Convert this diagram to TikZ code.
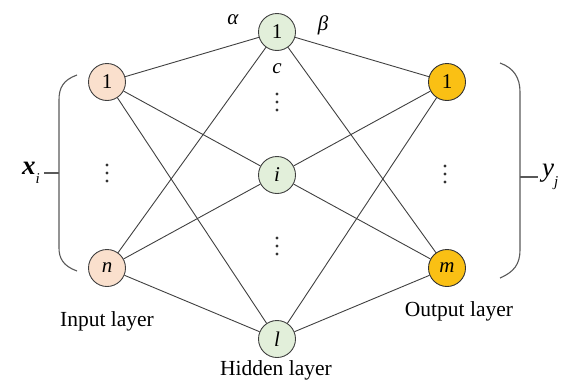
\documentclass[tikz,border=0pt]{standalone}
\usepackage{fontspec}
\setmainfont{Liberation Serif}
\definecolor{inpc}{RGB}{250,224,205}
\definecolor{hidc}{RGB}{226,239,218}
\definecolor{outc}{RGB}{250,192,20}
\newcommand\ilet[1]{\textit{#1}}
\newcommand\subtxt[1]{\raisebox{-0.35em}{\fontsize{15}{15}\selectfont\itshape #1}}
\begin{document}
\begin{tikzpicture}[x=1pt,y=-1pt,
  neuron/.style={circle,draw=black!75,line width=0.9pt,minimum size=37pt,inner sep=0pt,font=\fontsize{21}{21}\selectfont},
  inp/.style={neuron,fill=inpc},
  hid/.style={neuron,fill=hidc},
  outn/.style={neuron,fill=outc,draw=black!80},
  edge/.style={draw=black!75,line width=0.9pt},
  lbl/.style={font=\fontsize{21.5}{22}\selectfont,inner sep=0pt},
  wlbl/.style={font=\fontsize{21}{21}\selectfont\itshape,inner sep=0pt},
  side/.style={font=\fontsize{27}{27}\selectfont,inner ysep=0pt,inner xsep=4pt},
  dotfill/.style={fill=black!80},
  brk/.style={draw=black!65,line width=1.1pt}]
\useasboundingbox (0,0) rectangle (564,383);
% neurons
\node[inp] (i1) at (107,82) {1};
\node[inp] (in) at (107,268) {\ilet{n}};
\node[hid] (h1) at (277,32) {1};
\node[hid] (hi) at (277,175) {\ilet{i}};
\node[hid] (hl) at (277,339) {\ilet{l}};
\node[outn] (o1) at (447,82) {1};
\node[outn] (om) at (447,268) {\ilet{m}};
% vertical dots
\foreach \x/\y in {107/173, 277/102, 277/246, 445/174}
  \foreach \d in {-8,0,8}
    \fill[dotfill] (\x,\y+\d) circle (1.6);
% edges
\foreach \a in {i1,in}
  \foreach \b in {h1,hi,hl}
    \draw[edge] (\a) -- (\b);
\foreach \a in {h1,hi,hl}
  \foreach \b in {o1,om}
    \draw[edge] (\a) -- (\b);
% weight labels
\node[wlbl] (alpha) at (233,20) {α};
\node[wlbl] (beta) at (323,25) {β};
\node[wlbl] (cc) at (277,69) {c};
% layer labels
\node[lbl] (lin) at (107,321) {Input layer};
\node[lbl] (lhid) at (276,370) {Hidden layer};
\node[lbl] (lout) at (459,311) {Output layer};
% brackets
\draw[brk] (77,75) .. controls (63,80) and (59,88) .. (59,100) -- (59,248) .. controls (59,258) and (63,266) .. (77,271);
\draw[brk] (500,63) .. controls (514,68) and (520,78) .. (520,92) -- (520,250) .. controls (520,264) and (514,272) .. (500,278);
\coordinate (lt) at (59,173);
\coordinate (rt) at (520,177);
\node[side,anchor=east] (xl) at (44,173) {{\bfseries\itshape x}\subtxt{i}};
\node[side,anchor=west] (yl) at (538,177) {\itshape y\subtxt{j}};
\draw[brk] (lt) -- (xl.east);
\draw[brk] (rt) -- (yl.west);
\end{tikzpicture}
\end{document}
